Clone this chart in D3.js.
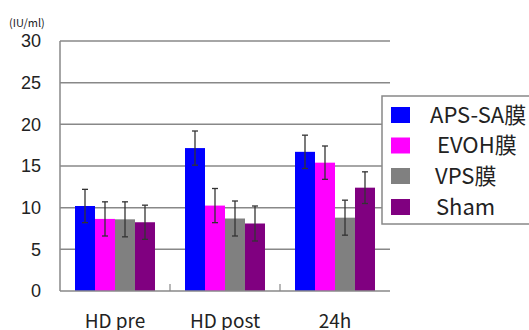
<!DOCTYPE html>
<html lang="ja">
<head>
<meta charset="UTF-8">
<title>chart</title>
<script src="https://cdn.jsdelivr.net/npm/d3@7"></script>
<style>
  body { margin: 0; background: #fff; }
  svg { display: block; }
</style>
</head>
<body>
<svg width="529" height="330"></svg>
<script>
// data
var categories = ["HD pre", "HD post", "24h"];
var seriesNames = ["APS-SA膜", "EVOH膜", "VPS膜", "Sham"];
var colors = ["#0000ff", "#ff00ff", "#808080", "#800080"];
var apsValues = [10.2, 17.15, 16.7];
var evohValues = [8.65, 10.25, 15.4];
var vpsValues = [8.6, 8.7, 8.8];
var shamValues = [8.25, 8.1, 12.4];
var apsErr = [2.0, 2.05, 2.0];
var evohErr = [2.05, 2.05, 2.0];
var vpsErr = [2.1, 2.1, 2.1];
var shamErr = [2.05, 2.1, 1.9];
var yTicks = [0, 5, 10, 15, 20, 25, 30];

var values = [apsValues, evohValues, vpsValues, shamValues];
var errs = [apsErr, evohErr, vpsErr, shamErr];

var svg = d3.select("svg");
var plotL = 60, plotR = 390, plotT = 41, plotB = 291;
var font = "'Noto Sans CJK JP', 'Noto Sans', sans-serif";

var x = d3.scaleBand().domain(categories).range([plotL, plotR]).paddingInner(0).paddingOuter(0);
var inner = d3.scaleBand().domain(d3.range(seriesNames.length)).range([15, x.bandwidth() - 15]);
var y = d3.scaleLinear().domain([0, 30]).range([plotB, plotT]);

// grid
svg.append("g").selectAll("line").data(yTicks.slice(1)).enter().append("line")
  .attr("x1", plotL).attr("x2", plotR)
  .attr("y1", function(d) { return y(d); }).attr("y2", function(d) { return y(d); })
  .attr("stroke", "#888").attr("stroke-width", 1.5);

// y labels
svg.append("g").selectAll("text").data(yTicks).enter().append("text")
  .attr("x", 41).attr("y", function(d) { return y(d); })
  .attr("dy", "0.36em").attr("text-anchor", "end")
  .attr("font-family", "'Liberation Sans', Arial, sans-serif").attr("font-size", 18)
  .attr("fill", "#222")
  .text(function(d) { return d; });

svg.append("text").attr("x", 9).attr("y", 27)
  .attr("font-family", font).attr("font-size", 11).attr("fill", "#222")
  .text("(IU/ml)");

// bars
var flat = [];
categories.forEach(function(c, i) {
  seriesNames.forEach(function(s, j) {
    flat.push({ cat: c, s: j, v: values[j][i], e: errs[j][i] });
  });
});

svg.append("g").selectAll("rect").data(flat).enter().append("rect")
  .attr("x", function(d) { return x(d.cat) + inner(d.s); })
  .attr("y", function(d) { return y(d.v); })
  .attr("width", inner.bandwidth())
  .attr("height", function(d) { return y(0) - y(d.v); })
  .attr("fill", function(d) { return colors[d.s]; });

// error bars
var eg = svg.append("g").attr("stroke", "#333").attr("stroke-width", 1.3);
flat.forEach(function(d) {
  var cx = x(d.cat) + inner(d.s) + inner.bandwidth() / 2;
  eg.append("line").attr("x1", cx).attr("x2", cx).attr("y1", y(d.v + d.e)).attr("y2", y(d.v - d.e));
  eg.append("line").attr("x1", cx - 3).attr("x2", cx + 3).attr("y1", y(d.v + d.e)).attr("y2", y(d.v + d.e));
  eg.append("line").attr("x1", cx - 3).attr("x2", cx + 3).attr("y1", y(d.v - d.e)).attr("y2", y(d.v - d.e));
});

// axes
svg.append("line").attr("x1", plotL).attr("x2", plotL).attr("y1", plotT).attr("y2", plotB)
  .attr("stroke", "#888").attr("stroke-width", 1.5);
svg.append("line").attr("x1", plotL).attr("x2", plotR).attr("y1", plotB).attr("y2", plotB)
  .attr("stroke", "#888").attr("stroke-width", 1.5);
svg.append("g").selectAll("line").data(categories.slice(1)).enter().append("line")
  .attr("x1", function(d) { return x(d); }).attr("x2", function(d) { return x(d); })
  .attr("y1", plotB).attr("y2", plotB - 7)
  .attr("stroke", "#888").attr("stroke-width", 1.2);

svg.append("g").selectAll("text").data(categories).enter().append("text")
  .attr("x", function(d) { return x(d) + x.bandwidth() / 2; })
  .attr("y", 328).attr("text-anchor", "middle")
  .attr("font-family", font).attr("font-size", 19).attr("fill", "#222")
  .text(function(d) { return d; });

// legend
var lg = svg.append("g");
lg.append("rect").attr("x", 382).attr("y", 96).attr("width", 160).attr("height", 128)
  .attr("fill", "#fff").attr("stroke", "#888").attr("stroke-width", 1.5);
var rowY = [115, 145.5, 176, 207];
var textX = [430, 437, 435, 436];
seriesNames.forEach(function(s, i) {
  lg.append("rect").attr("x", 391).attr("y", rowY[i] - 8).attr("width", 19).attr("height", 16)
    .attr("fill", colors[i]);
  lg.append("text").attr("x", textX[i]).attr("y", rowY[i]).attr("dy", "0.36em")
    .attr("font-family", font).attr("font-size", 22).attr("fill", "#222")
    .text(s);
});
</script>
</body>
</html>
